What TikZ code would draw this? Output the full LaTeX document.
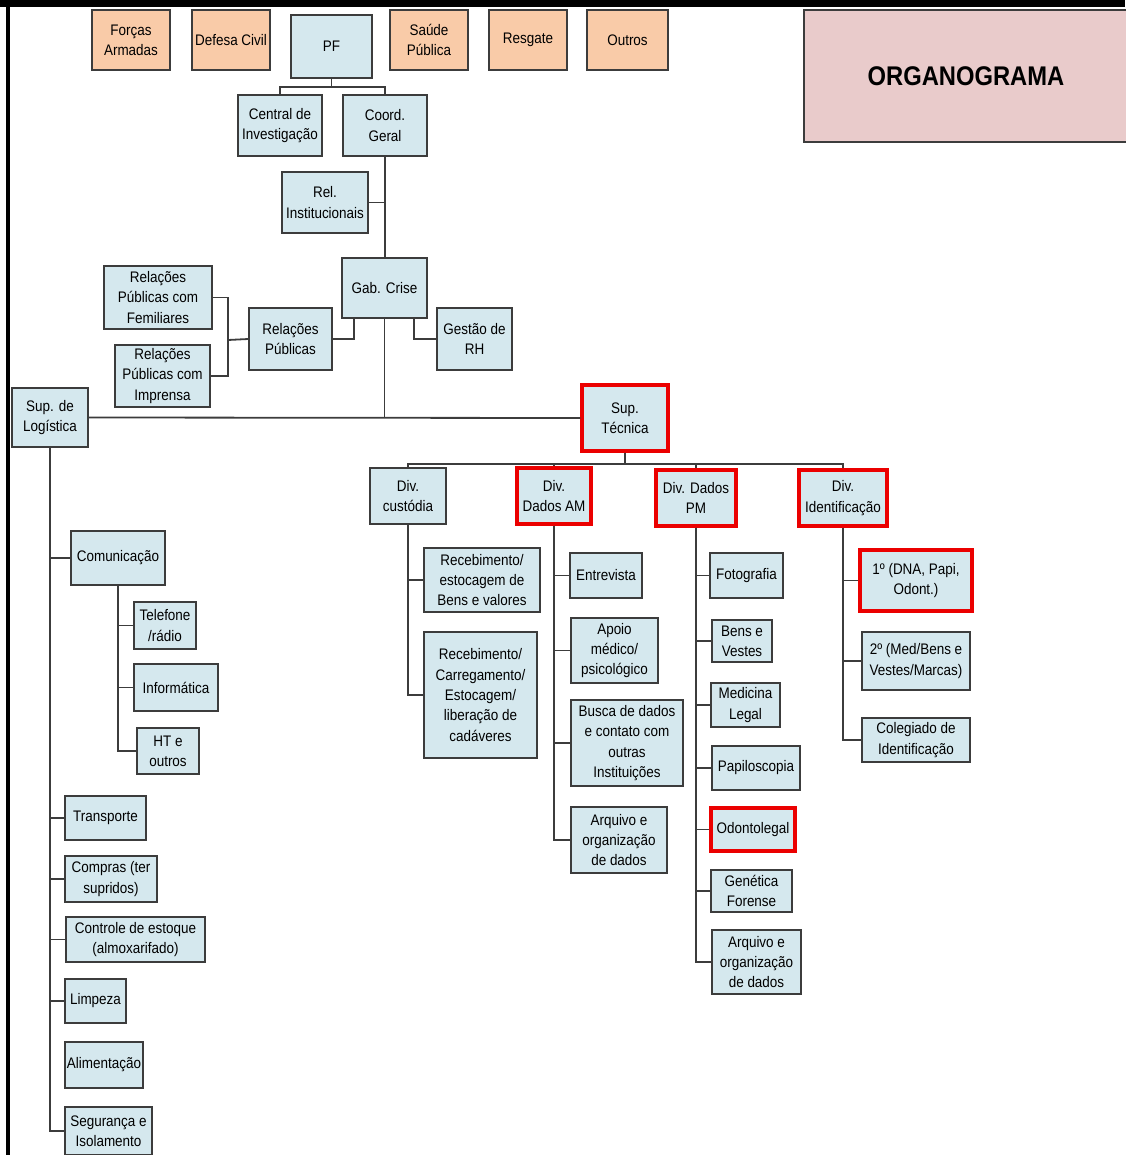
\documentclass[tikz,border=0pt]{standalone}
\usepackage{fontspec}
\setmainfont{Liberation Sans}[FakeStretch=0.88]
\definecolor{bfill}{RGB}{213,232,238}
\definecolor{ofill}{RGB}{249,203,168}
\definecolor{pfill}{RGB}{233,203,203}
\definecolor{boxline}{RGB}{60,60,60}
\definecolor{connc}{RGB}{60,60,60}
\definecolor{redc}{RGB}{235,0,0}
\begin{document}
\begin{tikzpicture}[x=1pt,y=-1pt,
  box/.style={draw=boxline, line width=1.4pt, align=center, inner sep=0pt,
    font=\fontsize{15.3}{20.3}\selectfont},
  bluebox/.style={box, fill=bfill},
  orangebox/.style={box, fill=ofill},
  redframe/.style={draw=redc, line width=3.4pt},
  conn/.style={draw=connc, line width=1.8pt},
  sz/.style 2 args={minimum width=#1pt, minimum height=#2pt}
]
\useasboundingbox (0,0) rectangle (1125,1155);
% page frame lines
\fill[black] (0,0) rectangle (1125,7);
\fill[black] (6,0) rectangle (10,1155);

% top row
\node[orangebox, sz={78}{60}] (forcas) at (131,40) {Forças\\Armadas};
\node[orangebox, sz={78}{60}] (defesa) at (231,40) {Defesa Civil};
\node[bluebox, sz={81}{63}] (pf) at (331.5,46.5) {PF};
\node[orangebox, sz={78}{60}] (saude) at (429,40) {Saúde\\Pública};
\node[orangebox, sz={78}{60}] (resgate) at (528,40) {Resgate};
\node[orangebox, sz={81}{60}] (outros) at (627.5,40) {Outros};
\node[box, fill=pfill, sz={324}{132}, font=\fontsize{27}{32}\bfseries] (org) at (966,76) {ORGANOGRAMA};

\node[bluebox, sz={84}{61}] (central) at (280,125.5) {Central de\\Investigação};
\node[bluebox, sz={84}{61}] (coord) at (385,125.5) {Coord.\\Geral};
\node[bluebox, sz={86}{61}] (relinst) at (325,202.5) {Rel.\\Institucionais};
\node[bluebox, sz={85}{60}] (gab) at (384.5,288) {Gab. Crise};
\node[bluebox, sz={83}{62}] (rp) at (290.5,339) {Relações\\Públicas};
\node[bluebox, sz={75}{62}] (rh) at (474.5,339) {Gestão de\\RH};
\node[bluebox, sz={108}{63}] (fem) at (158,297.5) {Relações\\Públicas com\\Femiliares};
\node[bluebox, sz={95}{62}] (imp) at (162.5,376) {Relações\\Públicas com\\Imprensa};
\node[bluebox, sz={76}{59}] (suplog) at (50,417.5) {Sup. de\\Logística};
\node[bluebox, redframe, sz={86}{66}] (suptec) at (625,418) {Sup.\\Técnica};

% divisions
\node[bluebox, sz={76}{56}] (cust) at (408,496) {Div.\\custódia};
\node[bluebox, redframe, sz={74}{56}] (dam) at (554,496) {Div.\\Dados AM};
\node[bluebox, redframe, sz={80}{56}] (dpm) at (696,498) {Div. Dados\\PM};
\node[bluebox, redframe, sz={88}{56}] (did) at (843,498) {Div.\\Identificação};

% custodia children
\node[bluebox, sz={116}{64}] (receb1) at (482,580) {Recebimento/\\estocagem de\\Bens e valores};
\node[bluebox, sz={113}{126}] (receb2) at (480.5,695) {Recebimento/\\Carregamento/\\Estocagem/\\liberação de\\cadáveres};

% dados AM children
\node[bluebox, sz={72}{45}] (entrev) at (606,575.5) {Entrevista};
\node[bluebox, sz={87}{65}] (apoio) at (614.5,650.5) {Apoio\\médico/\\psicológico};
\node[bluebox, sz={112}{86}] (busca) at (627,743) {Busca de dados\\e contato com\\outras\\Instituições};
\node[bluebox, sz={96}{66}] (arqam) at (619,840) {Arquivo e\\organização\\de dados};

% dados PM children
\node[bluebox, sz={73}{45}] (foto) at (746.5,575.5) {Fotografia};
\node[bluebox, sz={60}{42}] (bens) at (742,641) {Bens e\\Vestes};
\node[bluebox, sz={69}{44}] (medleg) at (745.5,705) {Medicina\\Legal};
\node[bluebox, sz={88}{44}] (papil) at (756,768) {Papiloscopia};
\node[bluebox, redframe, sz={84}{43}] (odonto) at (753,829.5) {Odontolegal};
\node[bluebox, sz={81}{42}] (genet) at (751.5,891) {Genética\\Forense};
\node[bluebox, sz={89}{64}] (arqpm) at (756.5,962) {Arquivo e\\organização\\de dados};

% identificacao children
\node[bluebox, redframe, sz={112}{61}] (prim) at (916,580.5) {1º (DNA, Papi,\\Odont.)};
\node[bluebox, sz={108}{58}] (segd) at (916,661) {2º (Med/Bens e\\Vestes/Marcas)};
\node[bluebox, sz={108}{44}] (coleg) at (916,740) {Colegiado de\\Identificação};

% logistica children
\node[bluebox, sz={94}{54}] (comun) at (118,558) {Comunicação};
\node[bluebox, sz={62}{47}] (tel) at (165,625.5) {Telefone\\/rádio};
\node[bluebox, sz={84}{47}] (info) at (176,687.5) {Informática};
\node[bluebox, sz={62}{46}] (ht) at (168,751) {HT e\\outros};
\node[bluebox, sz={81}{44}] (transp) at (105.5,818) {Transporte};
\node[bluebox, sz={92}{46}] (compras) at (111,879) {Compras (ter\\supridos)};
\node[bluebox, sz={139}{45}] (controle) at (135.5,939.5) {Controle de estoque\\(almoxarifado)};
\node[bluebox, sz={61}{44}] (limpeza) at (95.5,1001) {Limpeza};
\node[bluebox, sz={78}{46}] (alim) at (104,1065) {Alimentação};
\node[bluebox, sz={87}{48}] (segur) at (108.5,1131) {Segurança e\\Isolamento};

% connectors
\draw[conn] (pf.south) -- ++(0,8) -| (central.north);
\draw[conn] (pf.south) -- ++(0,8) -| (coord.north);
\draw[conn] (coord.south) -- (gab.north -| coord.south);
\draw[conn] (relinst.east) -- (relinst.east -| coord.south);
\coordinate (rpj) at (228,340);
\draw[conn] (fem.east) -| (rpj) |- (imp.east);
\draw[conn] (rpj) -- (rp.west);
\draw[conn] (rp.east) -| ([xshift=13pt]gab.south west);
\draw[conn] ([xshift=-14pt]gab.south east) |- (rh.west);
\draw[conn] (gab.south) -- (gab.south |- suplog.east);
\draw[conn] (suplog.east) -- (suptec.west);

\draw[conn] (suptec.south) -- ++(0,11) -| (cust.north);
\draw[conn] (suptec.south) -- ++(0,11) -| (dam.north);
\draw[conn] (suptec.south) -- ++(0,11) -| (dpm.north);
\draw[conn] (suptec.south) -- ++(0,11) -| (did.north);

\foreach \c in {receb1,receb2} \draw[conn] (cust.south) |- (\c.west);
\foreach \c in {entrev,apoio,busca,arqam} \draw[conn] (dam.south) |- (\c.west);
\foreach \c in {foto,bens,medleg,papil,odonto,genet,arqpm} \draw[conn] (dpm.south) |- (\c.west);
\foreach \c in {prim,segd,coleg} \draw[conn] (did.south) |- (\c.west);
\foreach \c in {comun,transp,compras,controle,limpeza,segur} \draw[conn] (suplog.south) |- (\c.west);
\foreach \c in {tel,info,ht} \draw[conn] (comun.south) |- (\c.west);
\end{tikzpicture}
\end{document}
